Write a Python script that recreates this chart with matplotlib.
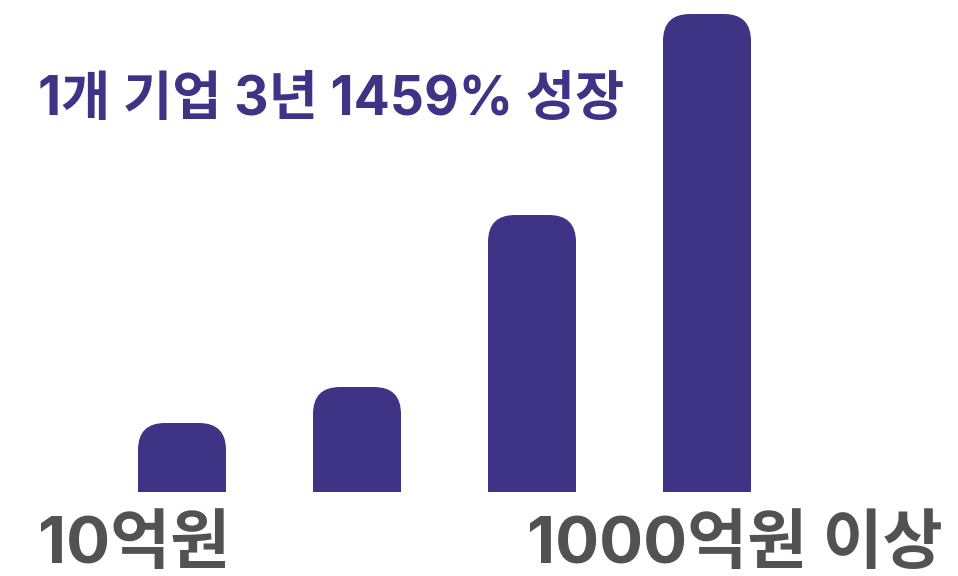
import matplotlib
matplotlib.use("Agg")
import matplotlib.pyplot as plt
from matplotlib.patches import FancyBboxPatch, Rectangle

plt.rcParams['font.family'] = ['Inter', 'Noto Sans CJK KR', 'DejaVu Sans']

# bar heights (relative size)
values = [69, 105, 277, 478]
title = '1개 기업 3년 1459% 성장'
left_label = '10억원'
right_label = '1000억원 이상'

bar_color = '#3f3386'
text_color = '#525252'

fig = plt.figure(figsize=(9.58, 5.76), dpi=100)
ax = fig.add_axes([0, 0, 1, 1])
ax.set_xlim(0, 958)
ax.set_ylim(-84, 492)
ax.axis('off')

width = 88
radius = 27
clip = Rectangle((0, 0), 958, 600, transform=ax.transData)
for i, v in enumerate(values):
    x = 138 + i * 175
    p = FancyBboxPatch((x, -radius), width, v + radius,
                       boxstyle='round,pad=0,rounding_size=%d' % radius,
                       fc=bar_color, ec='none')
    ax.add_patch(p)
    p.set_clip_path(clip)

ax.text(38, 391, title, color=bar_color, fontsize=38.5, fontweight='bold',
        va='center', ha='left')
ax.text(38, -54, left_label, color=text_color, fontsize=47, fontweight='bold',
        va='center', ha='left')
ax.text(943, -54, right_label, color=text_color, fontsize=47, fontweight='bold',
        va='center', ha='right')

fig.savefig('out.png', dpi=100)
